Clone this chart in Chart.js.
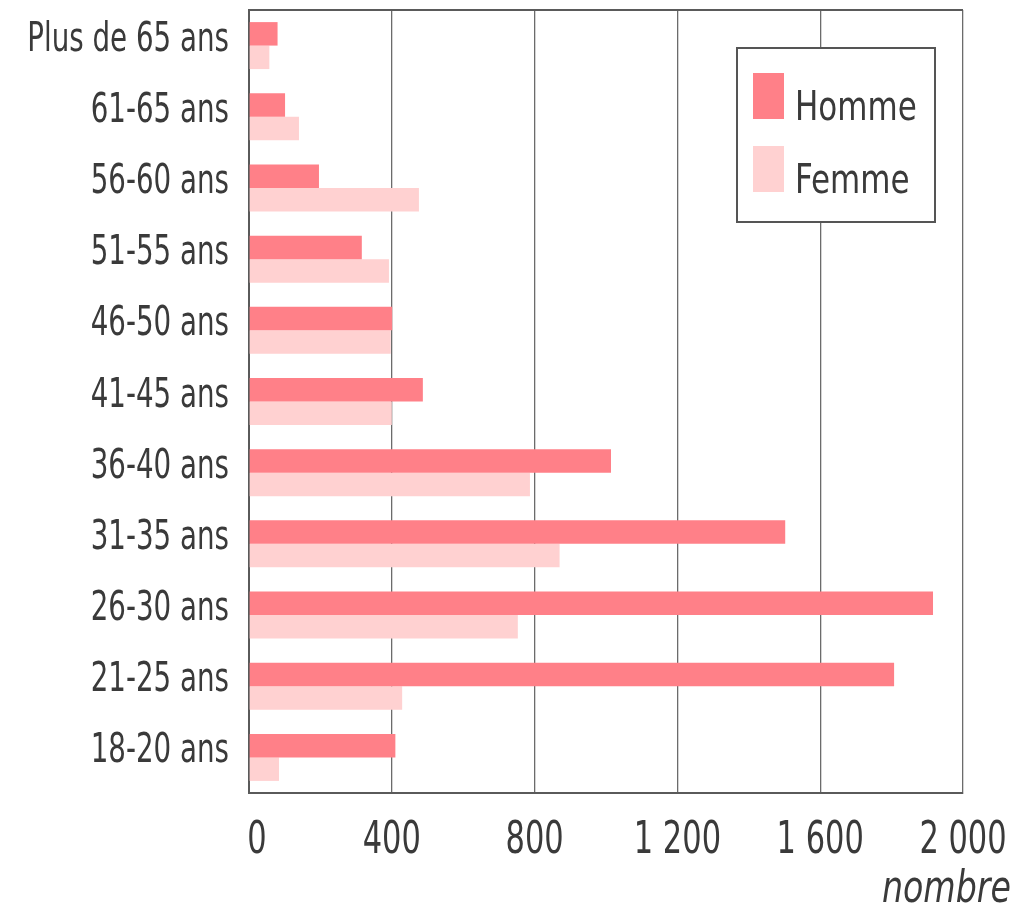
<!DOCTYPE html>
<html lang="fr">
<head>
<meta charset="utf-8">
<title>Répartition par âge et par sexe</title>
<script src="https://cdn.jsdelivr.net/npm/chart.js@4/dist/chart.umd.min.js"></script>
<style>
  html, body { margin: 0; padding: 0; background: #fff; }
  #wrap { position: relative; width: 1035px; height: 912px; }
</style>
</head>
<body>
<div id="wrap"><canvas id="ageChart"></canvas></div>
<script>
  // tranches d'âge, de la plus âgée (en haut) à la plus jeune
  const categories = [
    "Plus de 65 ans", "61-65 ans", "56-60 ans", "51-55 ans", "46-50 ans",
    "41-45 ans", "36-40 ans", "31-35 ans", "26-30 ans", "21-25 ans", "18-20 ans"
  ];
  const hommeValues = [80, 101, 196, 316, 401, 487, 1014, 1502, 1916, 1807, 410];
  const femmeValues = [57, 140, 476, 392, 397, 400, 787, 870, 753, 429, 84];
  const xTickValues = [0, 400, 800, 1200, 1600, 2000];
  const axisTitle = "nombre";

  const FONT = "'DejaVu Sans Condensed', 'DejaVu Sans', sans-serif";
  const TEXT = "#3a3a3a";
  const LINE = "#5a5a5a";

  const fmt = (v) => String(v).replace(/\B(?=(\d{3})+(?!\d))/g, " ");

  // texte étroit : police condensée resserrée horizontalement
  function narrowText(ctx, text, x, y, size, align, hscale, italic) {
    ctx.save();
    ctx.translate(x, y);
    ctx.scale(hscale, 1);
    ctx.font = (italic ? "italic " : "") + size + "px " + FONT;
    ctx.textAlign = align;
    ctx.textBaseline = "alphabetic";
    ctx.fillStyle = TEXT;
    ctx.fillText(text, 0, 0);
    ctx.restore();
  }

  // libellés des axes, cadre du haut, légende et titre de l'axe
  const extras = {
    id: "extras",
    afterDraw(chart) {
      const { ctx, chartArea: a, scales } = chart;

      scales.y.ticks.forEach((t, i) => {
        const y = scales.y.getPixelForTick(i);
        narrowText(ctx, scales.y.getLabelForValue(t.value), a.left - 20, y + 5, 40, "right", 0.77);
      });
      scales.x.ticks.forEach((t, i) => {
        const x = scales.x.getPixelForTick(i);
        narrowText(ctx, fmt(t.value), x + (i === 0 ? 8 : 0), 853, 44, "center", 0.77);
      });
      narrowText(ctx, axisTitle, 1011, 902, 44, "right", 0.84, true);

      ctx.save();
      ctx.strokeStyle = LINE;
      ctx.lineWidth = 2;
      ctx.beginPath();
      ctx.moveTo(a.left, a.top);
      ctx.lineTo(a.right, a.top);
      ctx.stroke();

      // légende encadrée
      const bx = 737, by = 48, bw = 198, bh = 174;
      ctx.fillStyle = "#fff";
      ctx.fillRect(bx, by, bw, bh);
      ctx.strokeStyle = "#555";
      ctx.lineWidth = 2;
      ctx.strokeRect(bx, by, bw, bh);
      ctx.restore();
      chart.data.datasets.forEach((ds, i) => {
        const y = by + 25 + i * 73;
        ctx.fillStyle = ds.backgroundColor;
        ctx.fillRect(bx + 16, y, 31, 46);
        narrowText(ctx, ds.label, bx + 58, y + 47, 41, "left", 0.84);
      });
    }
  };

  new Chart(document.getElementById("ageChart"), {
    type: "bar",
    data: {
      labels: categories,
      datasets: [
        { label: "Homme", data: hommeValues, backgroundColor: "#ff8088" },
        { label: "Femme", data: femmeValues, backgroundColor: "#ffd1d1" }
      ]
    },
    options: {
      indexAxis: "y",
      responsive: true,
      maintainAspectRatio: false,
      animation: false,
      datasets: { bar: { barPercentage: 1, categoryPercentage: 0.66, borderWidth: 0 } },
      layout: { padding: { top: 10, right: 72, left: 0, bottom: 0 } },
      plugins: { legend: { display: false }, tooltip: { enabled: false } },
      scales: {
        x: {
          min: 0,
          max: 2000,
          afterBuildTicks: (axis) => { axis.ticks = xTickValues.map((v) => ({ value: v })); },
          afterFit: (axis) => { axis.height = 119; },
          grid: { color: "#6b6b6b", lineWidth: 1.3, drawTicks: false },
          border: { color: LINE, width: 2 },
          ticks: { display: false }
        },
        y: {
          afterFit: (axis) => { axis.width = 249; },
          grid: { display: false },
          border: { color: LINE, width: 2 },
          ticks: { display: false }
        }
      }
    },
    plugins: [extras]
  });
</script>
</body>
</html>
